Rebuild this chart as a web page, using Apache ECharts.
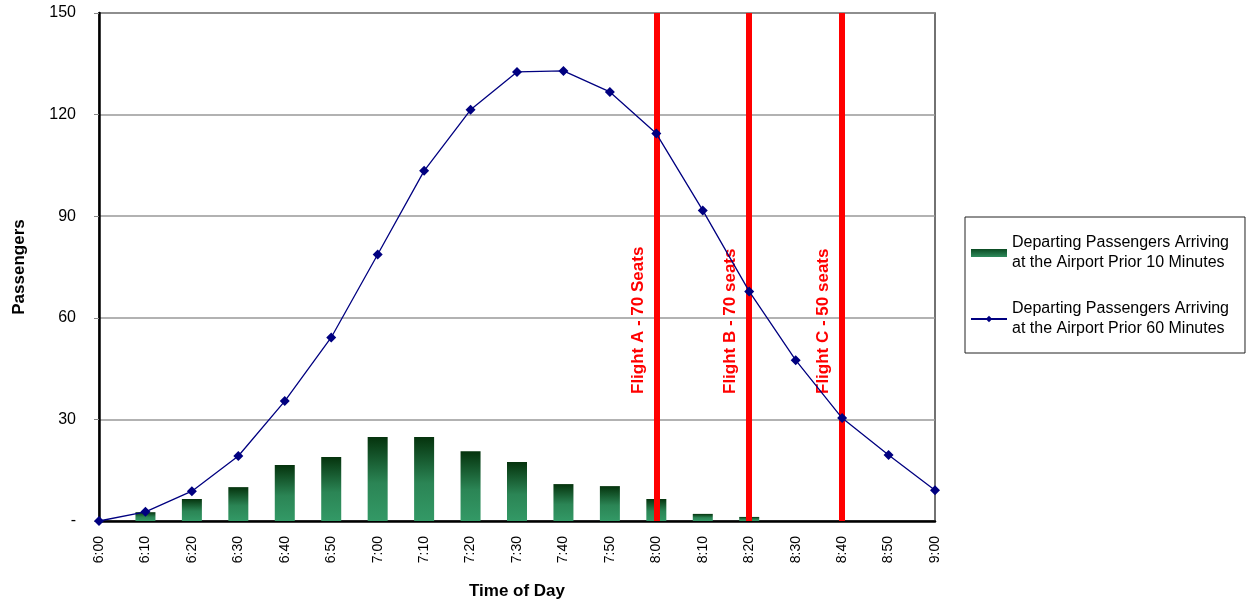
<!DOCTYPE html>
<html>
<head>
<meta charset="utf-8">
<script src="https://cdn.jsdelivr.net/npm/echarts@6/dist/echarts.min.js"></script>
<style>html,body{margin:0;padding:0;background:#fff}#c{width:1249px;height:605px}</style>
</head>
<body>
<div id="c"></div>
<script>
var categories = ['6:00','6:10','6:20','6:30','6:40','6:50','7:00','7:10','7:20','7:30','7:40','7:50','8:00','8:10','8:20','8:30','8:40','8:50','9:00'];
var prior10 = [0, 2.6, 6.5, 10.0, 16.5, 18.9, 24.8, 24.8, 20.6, 17.4, 10.9, 10.3, 6.5, 2.1, 1.2, 0, 0, 0, 0];
var prior60 = [0, 2.7, 8.8, 19.2, 35.4, 54.2, 78.7, 103.4, 121.4, 132.6, 132.9, 126.7, 114.4, 91.7, 67.8, 47.5, 30.4, 19.5, 9.1];
var flights = [
  {at: '8:00', label: 'Flight A - 70 Seats'},
  {at: '8:20', label: 'Flight B - 70 seats'},
  {at: '8:40', label: 'Flight C - 50 seats'}
];
var yTicks = {0: '-', 30: '30', 60: '60', 90: '90', 120: '120', 150: '150'};
var name10 = 'Departing Passengers Arriving\nat the Airport Prior 10 Minutes';
var name60 = 'Departing Passengers Arriving\nat the Airport Prior 60 Minutes';

var chart = echarts.init(document.getElementById('c'));
var barGrad = new echarts.graphic.LinearGradient(0, 0, 0, 1, [
  {offset: 0, color: '#05330d'},
  {offset: 0.55, color: '#2b8555'},
  {offset: 1, color: '#339966'}
]);
var legendGrad = new echarts.graphic.LinearGradient(0, 0, 0, 1, [
  {offset: 0, color: '#0b4a22'},
  {offset: 1, color: '#2e8b5c'}
]);
chart.setOption({
  animation: false,
  textStyle: {fontFamily: 'Liberation Sans, Arial, sans-serif'},
  grid: {left: 99, right: 314, top: 13, bottom: 81, show: true, borderColor: '#444', borderWidth: 1.5, backgroundColor: 'transparent'},
  legend: {
    orient: 'vertical', left: 965, top: 217,
    padding: [16, 16, 14, 5],
    borderColor: '#222', borderWidth: 1,
    itemGap: 26, itemWidth: 36, itemHeight: 8,
    textStyle: {fontSize: 16, lineHeight: 20, color: '#000'},
    data: [
      {name: name10, icon: 'rect', itemStyle: {color: legendGrad}},
      {name: name60}
    ]
  },
  xAxis: {
    type: 'category', data: categories, boundaryGap: false,
    name: 'Time of Day', nameLocation: 'middle', nameGap: 62,
    nameTextStyle: {fontSize: 17, fontWeight: 'bold', color: '#000'},
    axisLine: {lineStyle: {color: '#000', width: 2.5}},
    axisTick: {show: false},
    axisLabel: {rotate: 90, fontSize: 14, color: '#000', margin: 15},
    splitLine: {show: false}
  },
  yAxis: {
    type: 'value', min: 0, max: 150, interval: 30,
    name: 'Passengers', nameLocation: 'middle', nameGap: 71,
    nameTextStyle: {fontSize: 17, fontWeight: 'bold', color: '#000'},
    axisLine: {show: true, lineStyle: {color: '#000', width: 2.5}},
    axisTick: {show: true, length: 5, lineStyle: {color: '#888'}},
    axisLabel: {fontSize: 16, color: '#000', margin: 23, formatter: function (v) { return yTicks[v] !== undefined ? yTicks[v] : v; }},
    splitLine: {show: true, lineStyle: {color: '#999', width: 1.5}}
  },
  series: [
    {
      name: name10, type: 'bar', data: prior10, barWidth: 20,
      itemStyle: {color: barGrad},
      z: 2
    },
    {
      name: name60, type: 'line', data: prior60,
      symbol: 'diamond', symbolSize: 10,
      lineStyle: {color: '#000080', width: 1.3},
      itemStyle: {color: '#000080'},
      z: 4,
      markLine: {
        silent: true, z: 3, symbol: ['none', 'none'],
        lineStyle: {color: '#ff0000', width: 6, type: 'solid'},
        label: {
          show: true, position: 'insideStartTop', distance: [127, 10],
          color: '#ff0000', fontSize: 17, fontWeight: 'bold',
          formatter: function (p) { return p.name; }
        },
        data: flights.map(function (f) { return {name: f.label, xAxis: f.at}; })
      }
    }
  ]
});
</script>
</body>
</html>
